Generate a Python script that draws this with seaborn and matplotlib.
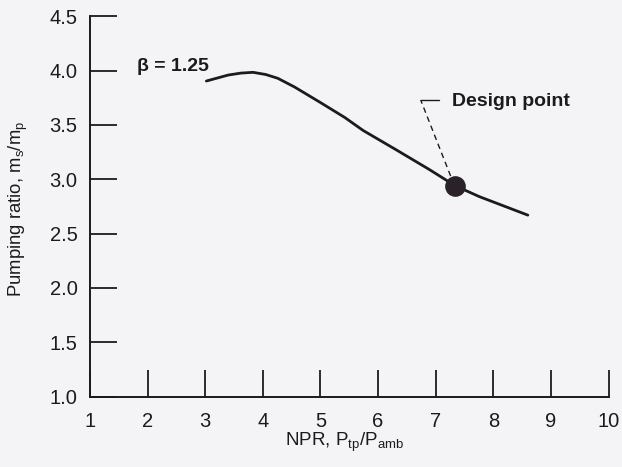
import matplotlib
matplotlib.use("Agg")
import matplotlib.pyplot as plt
import seaborn as sns
import pandas as pd

# Pumping ratio vs nozzle pressure ratio, beta = 1.25
npr = [3.02, 3.40, 3.62, 3.83, 4.05, 4.26, 4.55, 4.99, 5.42, 5.74, 6.32, 6.89, 7.34, 7.76, 8.60]
pumping = [3.905, 3.96, 3.978, 3.985, 3.965, 3.93, 3.85, 3.71, 3.57, 3.45, 3.27, 3.09, 2.94, 2.84, 2.67]

design_npr = [7.34]
design_pumping = [2.94]

x_ticks = [1, 2, 3, 4, 5, 6, 7, 8, 9, 10]
y_ticks = [1.0, 1.5, 2.0, 2.5, 3.0, 3.5, 4.0, 4.5]
y_tick_labels = ["1.0", "1.5", "2.0", "2.5", "3.0", "3.5", "4.0", "4.5"]

sns.set_style("ticks")
plt.rcParams["font.family"] = ["Liberation Sans", "DejaVu Sans"]
plt.rcParams["mathtext.fontset"] = "custom"
plt.rcParams["mathtext.rm"] = "Liberation Sans"

ink = "#1c1a1c"
bg = "#f4f4f6"

fig = plt.figure(figsize=(6.22, 4.67), dpi=100, facecolor=bg)
ax = fig.add_axes([90 / 622, 70.5 / 467, 518.5 / 622, 380.1 / 467])
ax.set_facecolor(bg)

df = pd.DataFrame({"npr": npr, "pumping": pumping})
sns.lineplot(data=df, x="npr", y="pumping", ax=ax, color=ink, linewidth=2.0,
             sort=False, estimator=None)

dp = pd.DataFrame({"npr": design_npr, "pumping": design_pumping})
sns.scatterplot(data=dp, x="npr", y="pumping", ax=ax, s=190, color="#2a2228",
                edgecolor="#2a2228", zorder=5, legend=False)

ax.set_xlim(1, 10)
ax.set_ylim(1.0, 4.5)
ax.set_xticks(x_ticks)
ax.set_xticklabels([str(t) for t in x_ticks])
ax.set_yticks(y_ticks)
ax.set_yticklabels(y_tick_labels)

for side in ("top", "right"):
    ax.spines[side].set_visible(False)
for side in ("left", "bottom"):
    ax.spines[side].set_linewidth(1.4)
    ax.spines[side].set_color(ink)

ax.tick_params(axis="x", direction="in", length=19.4, width=1.3, color=ink,
               pad=11, labelsize=14.5, labelcolor=ink)
ax.tick_params(axis="y", direction="in", length=19.4, width=1.3, color=ink,
               pad=9, labelsize=14.5, labelcolor=ink)
for t in ax.get_xticklines() + ax.get_yticklines():
    t.set_clip_on(False)

ax.set_xlabel("")
ax.set_ylabel("")

fig.text(345 / 622, 1 - 442 / 467, r"NPR, P$_{\mathregular{tp}}$/P$_{\mathregular{amb}}$",
         ha="center", va="center", fontsize=13.5, color=ink)
fig.text(18 / 622, 1 - 209 / 467, r"Pumping ratio, m$_{\mathregular{s}}$/m$_{\mathregular{p}}$",
         ha="center", va="center", rotation=90, fontsize=13.3, color=ink)

# Curve label
ax.text(1.82, 4.04, r"β = 1.25", ha="left", va="center", fontsize=14,
        fontweight="bold", color=ink)

# Design point callout with dashed leader
dx, dy = design_npr[0], design_pumping[0]
elbow_x, elbow_y = 6.74, 3.73
ax.plot([dx - 0.08, elbow_x], [dy + 0.09, elbow_y], color=ink, linewidth=1.0,
        linestyle=(0, (4, 3)))
ax.plot([elbow_x, 7.06], [elbow_y, elbow_y], color=ink, linewidth=1.0)
ax.text(7.28, 3.715, "Design point", ha="left", va="center", fontsize=14,
        fontweight="bold", color=ink)

fig.savefig("out.png", dpi=100, facecolor=bg)
